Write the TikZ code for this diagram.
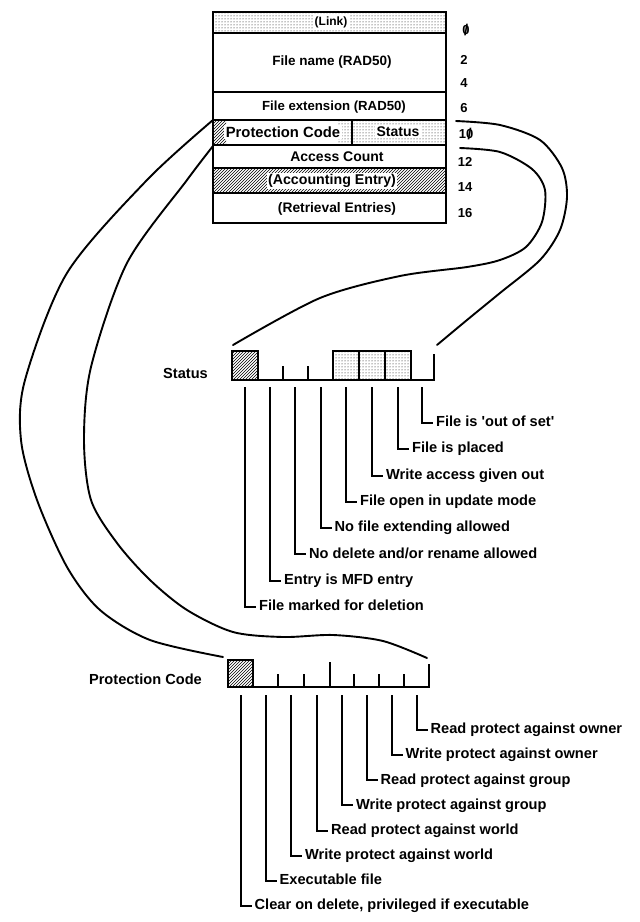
\documentclass[tikz,border=0pt]{standalone}
\usepackage{fontspec}
\setmainfont{Liberation Sans}
\usetikzlibrary{patterns}
\newcommand\slzero{\ooalign{0\cr\hidewidth\raisebox{-0.08em}{\scalebox{1.1}[1.2]{/}}\hidewidth\cr}}
\begin{document}
\begin{tikzpicture}[x=1pt,y=-1pt,
  rowline/.style={line width=1.5pt},
  frame/.style={line width=2.6pt},
  bitline/.style={line width=2.2pt},
  lead/.style={line width=2pt},
  curve/.style={line width=1.9pt, line cap=round},
  ttxt/.style={font=\fontsize{#1}{#1}\selectfont\bfseries, inner sep=1.5pt},
  num/.style={font=\fontsize{13}{13}\selectfont\bfseries, inner sep=0pt},
  lbl/.style={font=\fontsize{14.6}{15}\selectfont\bfseries, anchor=west,
    inner xsep=3pt, inner ysep=0pt, text height=10.5pt, text depth=3pt},
  flabel/.style={font=\fontsize{14.6}{15}\selectfont\bfseries, anchor=base east, inner sep=0pt}
]
\useasboundingbox (0,0) rectangle (640,922);

% ---------- table ----------
\fill[pattern=dots] (213,12) rectangle (446,33);
\fill[pattern=north east lines] (213,120) rectangle (226,145);
\fill[pattern=dots] (338,120) rectangle (446,145);
\fill[pattern=north east lines] (213,168) rectangle (446,193);

\node[ttxt=12, fill=white] (link) at (331,22) {(Link)};
\node[ttxt=13.5] (fname) at (332,62) {File name (RAD50)};
\node[ttxt=13.2] (fext) at (334,107) {File extension (RAD50)};
\node[ttxt=14.8, fill=white] (prot) at (283,132) {Protection Code};
\node[ttxt=14, fill=white] (stat) at (398,132) {Status};
\node[ttxt=14] (acc) at (337,157) {Access Count};
\node[ttxt=14.2, fill=white] (acct) at (332,181) {(Accounting Entry)};
\node[ttxt=13.8] (retr) at (337,209) {(Retrieval Entries)};

\draw[rowline] (213,33) -- (446,33);
\draw[rowline] (213,92) -- (446,92);
\draw[rowline] (213,120) -- (446,120);
\draw[rowline] (213,145) -- (446,145);
\draw[rowline] (213,168) -- (446,168);
\draw[rowline] (213,193) -- (446,193);
\draw[rowline] (352,120) -- (352,145);
\draw[frame] (213,12) rectangle (446,223);

\node[num] (n0) at (466,31) {\slzero};
\node[num] (n2) at (464,60) {2};
\node[num] (n4) at (464,83) {4};
\node[num] (n6) at (464,108) {6};
\node[num] (n10) at (466,135) {1\slzero};
\node[num] (n12) at (465,162) {12};
\node[num] (n14) at (465,187) {14};
\node[num] (n16) at (465,213) {16};

% ---------- curve end points ----------
\coordinate (pcTop) at (213,120);
\coordinate (pcBot) at (213,146);
\coordinate (stTop) at (456,121);
\coordinate (stBot) at (460,148);
\coordinate (sfL) at (233,345);
\coordinate (sfR) at (437,345);
\coordinate (pfL) at (223,657);
\coordinate (pfR) at (427,658);

\draw[curve] plot[smooth] coordinates {(stTop) (500,125) (540,140) (562,168) (567,197) (560,230) (540,260) (500,293) (467,320) (sfR)};
\draw[curve] plot[smooth] coordinates {(stBot) (500,152) (532,169) (545,190) (542,222) (526,247) (500,260) (467,267) (400,276) (320,298) (sfL)};
\draw[curve] plot[smooth] coordinates {(pcTop) (147,180) (67,273) (25,380) (21,440) (37,500) (67,567) (100,610) (150,640) (pfL)};
\draw[curve] plot[smooth] coordinates {(pcBot) (187,180) (127,263) (91,367) (84,440) (91,500) (117,543) (150,580) (187,610) (233,632) (283,637) (333,635) (383,641) (pfR)};

% ---------- Status field ----------
\node[flabel] (statusl) at (208,378) {Status};
\draw[bitline, pattern=north east lines] (232,351) rectangle (258,380);
\draw[bitline] (258,380) -- (333,380);
\draw[bitline] (283,380) -- (283,366);
\draw[bitline] (308,380) -- (308,366);
\draw[bitline, pattern=dots] (333,351) rectangle (359,380);
\draw[bitline, pattern=dots] (359,351) rectangle (385,380);
\draw[bitline, pattern=dots] (385,351) rectangle (411,380);
\draw[bitline] (411,380) -- (434,380) -- (434,354);

\foreach \x/\y/\t [count=\i] in {
  245/607.0/{File marked for deletion},
  270/580.7/{Entry is MFD entry},
  295/554.4/{No delete and/or rename allowed},
  320.5/528.1/{No file extending allowed},
  346/501.8/{File open in update mode},
  372/475.5/{Write access given out},
  398/449.2/{File is placed},
  422/422.9/{File is \textquotesingle out of set\textquotesingle}}{
  \coordinate (sb\i) at (\x,387);
  \node[lbl] (st\i) at (\x+11,\y) {\t};
  \draw[lead] (sb\i) |- (st\i.west);
}

% ---------- Protection Code field ----------
\node[flabel] (protl) at (202,684) {Protection Code};
\draw[bitline, pattern=north east lines] (228,660) rectangle (253,687);
\draw[bitline] (253,687) -- (429,687) -- (429,664);
\foreach \x in {278,304,354,379,404}{
  \draw[bitline] (\x,687) -- (\x,674);
}
\draw[bitline] (330,687) -- (330,662);

\foreach \x/\y/\t [count=\i] in {
  240.5/906.0/{Clear on delete, privileged if executable},
  265.5/880.9/{Executable file},
  291/855.7/{Write protect against world},
  317/830.6/{Read protect against world},
  342/805.4/{Write protect against group},
  366.5/780.3/{Read protect against group},
  391.5/755.2/{Write protect against owner},
  416.5/730.0/{Read protect against owner}}{
  \coordinate (pb\i) at (\x,695);
  \node[lbl] (pt\i) at (\x+11,\y) {\t};
  \draw[lead] (pb\i) |- (pt\i.west);
}
\end{tikzpicture}
\end{document}
